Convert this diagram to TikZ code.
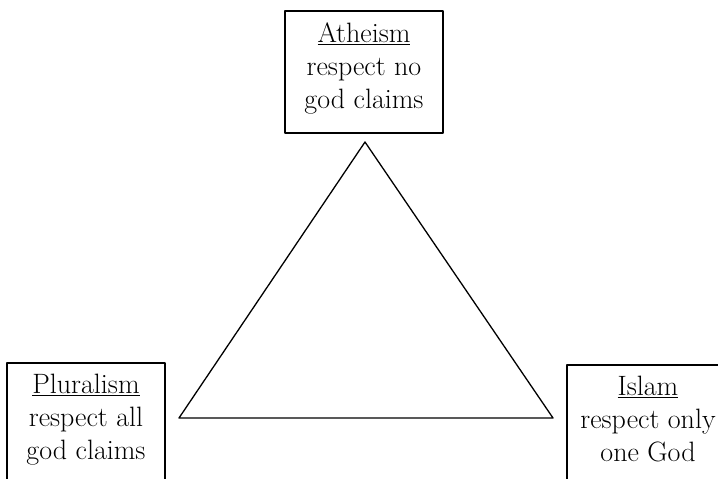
\documentclass[tikz,border=0pt]{standalone}
\begin{document}
\begin{tikzpicture}[x=1pt, y=-1pt, font=\fontsize{28}{33}\selectfont, line join=round, line cap=round,
	box/.style={draw, line width=1.6pt, minimum width=158pt, inner xsep=2pt, inner ysep=11.5pt, text depth=13.5pt, align=center, anchor=north}]
			\useasboundingbox (0,0) rectangle (718,479);
			\clip (0,0) rectangle (718,479);
			\draw[line width=1.3pt] (365,142)--(179,418)--(553,418)--cycle;
			\path
			(364,10) node[box] (atheism) {\underline{Atheism}\\respect no\\god claims}
			(86,362) node[box] (pluralism) {\underline{Pluralism}\\respect all\\god claims}
			(648,364) node[box, minimum width=162pt] (islam) {\underline{Islam}\\respect only\\one God}
			;
		\end{tikzpicture}
\end{document}
